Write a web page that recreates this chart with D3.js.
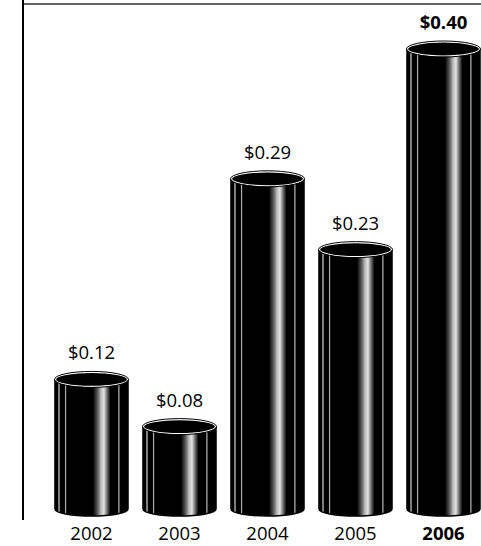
<!DOCTYPE html>
<html>
<head>
<meta charset="utf-8">
<script src="https://cdn.jsdelivr.net/npm/d3@7"></script>
<style>
  body { margin: 0; background: #fff; }
  text { font-family: "Open Sans", "Noto Sans", sans-serif; fill: #000; }
</style>
</head>
<body>
<div class="chart"></div>
<script>
var svgWidth = 481;
var svgHeight = 546;

// data
var years = ["2002", "2003", "2004", "2005", "2006"];
var values = [0.12, 0.08, 0.29, 0.23, 0.40];
var valueLabels = ["$0.12", "$0.08", "$0.29", "$0.23", "$0.40"];
var boldYear = "2006";

var data = years.map(function(y, i) {
  return { year: y, value: values[i], label: valueLabels[i] };
});

var baseY = 509;   // centre of the bottom ellipse
var ry = 7;

var svg = d3.select(".chart")
  .append("svg")
  .attr("width", svgWidth)
  .attr("height", svgHeight);

var xScale = d3.scaleBand()
  .domain(years)
  .range([47.5, 487.5])
  .paddingInner(0.17)
  .paddingOuter(0.085);

var yScale = d3.scaleLinear()
  .domain([0, 0.40])
  .range([521, 49]);

// frame lines
svg.append("line")
  .attr("x1", 23).attr("x2", svgWidth)
  .attr("y1", 4).attr("y2", 4)
  .attr("stroke", "#333").attr("stroke-width", 1.5);
svg.append("line")
  .attr("x1", 23).attr("x2", 23)
  .attr("y1", 0).attr("y2", 520)
  .attr("stroke", "#000").attr("stroke-width", 2);

// shine across the cylinder body
var grad = svg.append("defs").append("linearGradient")
  .attr("id", "shine")
  .attr("x1", "0%").attr("x2", "100%")
  .attr("y1", "0%").attr("y2", "0%");

var stops = [
  [0, "#000"], [0.04, "#000"], [0.055, "#e8e8e8"], [0.07, "#000"],
  [0.13, "#000"], [0.145, "#bbb"], [0.16, "#000"],
  [0.52, "#000"], [0.58, "#555"], [0.63, "#bbb"], [0.67, "#e4e4e4"],
  [0.71, "#777"], [0.76, "#000"],
  [0.86, "#000"], [0.875, "#ccc"], [0.89, "#000"], [1, "#000"]
];
grad.selectAll("stop")
  .data(stops)
  .enter()
  .append("stop")
  .attr("offset", d => d[0])
  .attr("stop-color", d => d[1]);

var bars = svg.selectAll(".cyl")
  .data(data)
  .enter()
  .append("g")
  .classed("cyl", true);

// bottom cap
bars.append("ellipse")
  .attr("cx", d => xScale(d.year) + xScale.bandwidth() / 2)
  .attr("cy", baseY)
  .attr("rx", xScale.bandwidth() / 2)
  .attr("ry", ry)
  .attr("fill", "url(#shine)");

// body
bars.append("rect")
  .attr("x", d => xScale(d.year))
  .attr("y", d => yScale(d.value))
  .attr("width", xScale.bandwidth())
  .attr("height", d => baseY - yScale(d.value))
  .attr("fill", "url(#shine)");

// body outline
bars.append("path")
  .attr("d", function(d) {
    var x0 = xScale(d.year), x1 = x0 + xScale.bandwidth();
    var y0 = yScale(d.value);
    var r = xScale.bandwidth() / 2;
    return "M" + x0 + "," + y0 + "V" + baseY +
      "A" + r + "," + ry + " 0 0 0 " + x1 + "," + baseY +
      "V" + y0;
  })
  .attr("fill", "none")
  .attr("stroke", "#000")
  .attr("stroke-width", 1.5);

// top cap
bars.append("ellipse")
  .attr("cx", d => xScale(d.year) + xScale.bandwidth() / 2)
  .attr("cy", d => yScale(d.value))
  .attr("rx", xScale.bandwidth() / 2 - 0.5)
  .attr("ry", ry)
  .attr("fill", "#000")
  .attr("stroke", "#fff")
  .attr("stroke-width", 1.2);

bars.append("ellipse")
  .attr("cx", d => xScale(d.year) + xScale.bandwidth() / 2)
  .attr("cy", d => yScale(d.value))
  .attr("rx", xScale.bandwidth() / 2 + 0.5)
  .attr("ry", ry + 1)
  .attr("fill", "none")
  .attr("stroke", "#000")
  .attr("stroke-width", 1);

// value labels
svg.selectAll(".val")
  .data(data)
  .enter()
  .append("text")
  .classed("val", true)
  .attr("x", d => xScale(d.year) + xScale.bandwidth() / 2)
  .attr("y", d => yScale(d.value) - 20)
  .attr("text-anchor", "middle")
  .attr("font-size", 18.5)
  .attr("font-weight", d => d.year === boldYear ? "bold" : "normal")
  .text(d => d.label);

// year labels
svg.selectAll(".yr")
  .data(years)
  .enter()
  .append("text")
  .classed("yr", true)
  .attr("x", d => xScale(d) + xScale.bandwidth() / 2)
  .attr("y", 540)
  .attr("text-anchor", "middle")
  .attr("font-size", 18.5)
  .attr("font-weight", d => d === boldYear ? "bold" : "normal")
  .text(d => d);
</script>
</body>
</html>
